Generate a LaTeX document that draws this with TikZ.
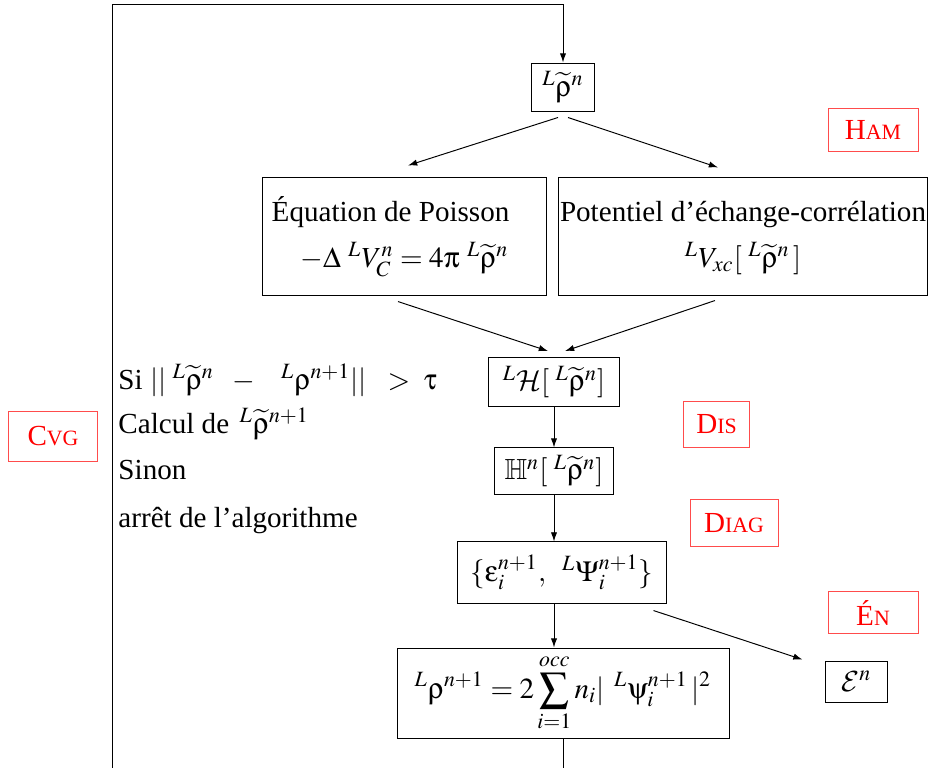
\documentclass[tikz,border=0pt,12pt]{standalone}
\usepackage{mathptmx}
\usepackage{amssymb}
\usepackage[Symbol]{upgreek}
\usepackage[no-math]{fontspec}
\setmainfont{Liberation Serif}
\usetikzlibrary{arrows.meta, positioning, calc}
\DeclareMathAlphabet{\mathcal}{OMS}{cmsy}{m}{n}
\definecolor{steptag}{RGB}{255, 0, 0}
\newcommand{\fsc}[2]{#1{\fontsize{9pt}{10pt}\selectfont #2}}
\newcommand{\Lrho}{{}^{L}\widetilde{\uprho}}

\begin{document}
\begin{tikzpicture}[
    x=0.4124pt, y=-0.4124pt,
    box/.style={draw, thin, inner sep=0pt, align=center},
    tag/.style={draw=steptag!70, thin, text=steptag, inner sep=0pt},
    note/.style={anchor=base west, inner sep=0pt},
    arrow/.style={-{Latex[length=3.8pt, width=2.6pt]}, thin}
]
    \useasboundingbox (0,0) rectangle (933,767);
    \clip (0,0) rectangle (933,767);

    % --- DENSITE D'ENTREE ---
    \node[box, minimum width=25.6pt, minimum height=19.8pt] (rhoT) at (563,87) {$\Lrho^{n}$};

    % --- POTENTIELS ---
    \node[box, minimum width=117.5pt, minimum height=48.3pt] (poisson) at (404.5,236.5) {%
        \begin{tabular}{@{}p{109.5pt}@{}}
        \rule{0pt}{11pt}Équation de Poisson\\[4.3pt]
        \multicolumn{1}{@{}c@{}}{$-\Delta\ {}^{L}V_C^{n} = 4\uppi\ \Lrho^{n}$}
        \end{tabular}};
    \node[box, minimum width=151.8pt, minimum height=48.3pt] (xc) at (743,236.5) {%
        \begin{tabular}{@{}l@{}}
        \rule{0pt}{11pt}Potentiel d'échange-corrélation\\[4.3pt]
        \multicolumn{1}{@{}c@{}}{${}^{L}V_{xc}[\;\Lrho^{n}\,]$}
        \end{tabular}};
    \draw[arrow] ($(rhoT.south)+(-5,6)$) -- ($(poisson.north)+(3.5,-12)$);
    \draw[arrow] ($(rhoT.south)+(5,6)$) -- ($(xc.north)+(-25,-10)$);

    % --- HAMILTONIEN ---
    \node[box, minimum width=54.4pt, minimum height=20.2pt] (hamilt) at (554,382) {${}^{L}\mathcal{H}[\;\Lrho^{n}]$};
    \draw[arrow] ($(poisson.south)+(-6.5,6)$) -- ($(hamilt.north)+(-6,-6)$);
    \draw[arrow] ($(xc.south)+(-28,5)$) -- ($(hamilt.north)+(11,-6)$);

    \node[box, minimum width=49.1pt, minimum height=19pt] (hh) at (554,471) {$\mathbb{H}^{n}[\;\Lrho^{n}]$};
    \draw[arrow] (hamilt.south) -- (hh.north);

    % --- DIAGONALISATION ---
    \node[box, minimum width=85.8pt, minimum height=25.2pt] (eps) at (562,572.5) {$\{\upepsilon_i^{n+1},\;\;{}^{L}\Psi_i^{n+1}\}$};
    \draw[arrow] (hh.south) -- (hh.south |- eps.north);

    \node[box, minimum width=136.9pt, minimum height=37.1pt] (rhoN) at (563,693) {$\displaystyle {}^{L}\uprho^{n+1} = 2\sum_{i=1}^{occ} n_i|\;\,{}^{L}\uppsi_i^{n+1}\,|^2$};
    \draw[arrow] (eps.south -| hh.south) -- (hh.south |- rhoN.north);

    % --- ENERGIE ---
    \node[box, minimum width=25.2pt, minimum height=16.9pt] (En) at (856.5,681.5) {$\mathcal{E}^{n}$};
    \draw[arrow] ($(eps.south east)+(-13,7)$) -- ($(En.north west)+(-23,-1)$);

    % --- CONVERGENCE ---
    \node[note] (cond) at (118,389) {Si $||\;\Lrho^{n}\ \ -\ \ \ {}^{L}\uprho^{n+1}||\ \ >\ \uptau$};
    \node[note] (calcul) at (118,433) {Calcul de $\,\Lrho^{n+1}$};
    \node[note] (sinon) at (118,479) {Sinon};
    \node[note] (stop) at (118,527) {arrêt de l'algorithme};

    \coordinate (corner) at (112,4);
    \draw[arrow] (rhoN.south) -- ++(0,60) -| (corner) -| (rhoT.north);

    % --- ETAPES ---
    \node[tag, minimum width=37.1pt, minimum height=18.1pt] (tagHam) at (873,130) {\fsc{H}{AM}};
    \node[tag, minimum width=27.6pt, minimum height=18.6pt] (tagDis) at (716.5,424.5) {\fsc{D}{IS}};
    \node[tag, minimum width=36.3pt, minimum height=19pt] (tagDiag) at (734,523) {\fsc{D}{IAG}};
    \node[tag, minimum width=37.1pt, minimum height=17.7pt] (tagEn) at (873,612.5) {\fsc{É}{N}};
    \node[tag, minimum width=37.1pt, minimum height=21pt] (tagCvg) at (53,436.5) {\fsc{C}{VG}};

\end{tikzpicture}
\end{document}
